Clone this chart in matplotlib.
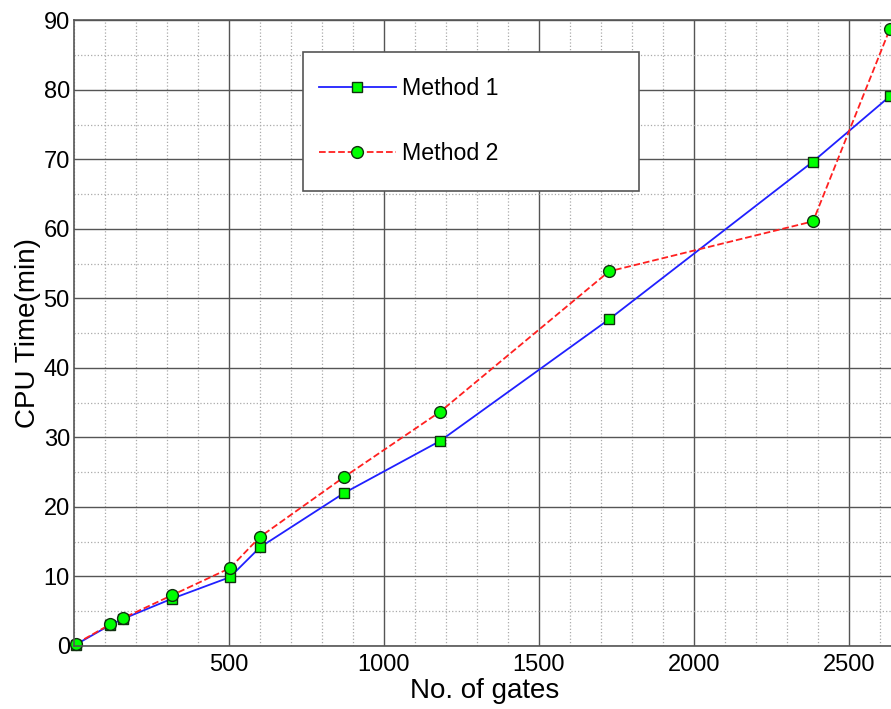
import matplotlib.pyplot as plt
from matplotlib.patches import Rectangle
from matplotlib.ticker import MultipleLocator

plt.rcParams['font.family'] = ['Liberation Sans', 'DejaVu Sans']

# data
gates = [6, 116, 158, 316, 503, 600, 871, 1181, 1726, 2384, 2632]
method1 = [0.2, 3.0, 3.9, 6.8, 9.9, 14.2, 22.0, 29.5, 47.0, 69.7, 79.1]
method2 = [0.3, 3.1, 4.0, 7.3, 11.2, 15.7, 24.3, 33.7, 53.9, 61.1, 88.8]
xticks = [500, 1000, 1500, 2000, 2500]
yticks = list(range(0, 91, 10))

W = 2650 * 0.31  # axes width in pixels, the right part is cut by the figure edge
fig = plt.figure(figsize=(8.91, 7.09), dpi=100)
ax = fig.add_axes([74 / 891, 0.0889, W / 891, 0.8822])

ax.plot(gates, method1, '-', color='#2020ff', lw=1.3, marker='s', ms=7.5,
        mfc='#00ff00', mec='#103010', mew=1.0, label='Method 1', clip_on=False)
ax.plot(gates, method2, '--', color='#ff2020', lw=1.3, marker='o', ms=8.5,
        mfc='#00ff00', mec='#103010', mew=1.0, label='Method 2', clip_on=False)

ax.set_xlim(0, 2650)
ax.set_ylim(0, 90)
ax.set_xticks(xticks)
ax.set_yticks(yticks)
ax.xaxis.set_minor_locator(MultipleLocator(100))
ax.yaxis.set_minor_locator(MultipleLocator(5))
ax.grid(which='major', color='#555555', lw=1.0, ls='-')
ax.grid(which='minor', color='#aaaaaa', lw=0.9, ls=':')
ax.set_axisbelow(True)
ax.tick_params(which='both', direction='in', length=0, labelsize=17)
ax.tick_params(axis='y', pad=3)
ax.tick_params(axis='x', pad=6)
for s in ax.spines.values():
    s.set_color('#555555')
    s.set_linewidth(1.2)

ax.set_xlabel('No. of gates', fontsize=20, labelpad=1)
ax.set_ylabel('CPU Time(min)', fontsize=20, labelpad=2)

# legend: wide fixed box drawn by hand, entries placed inside
def ax_x(px):
    return (px - 74) / W

def ax_y(py):
    return (646 - py) / 625.5

box = Rectangle((ax_x(303), ax_y(191)), ax_x(639) - ax_x(303), ax_y(52) - ax_y(191),
                transform=ax.transAxes, facecolor='white', edgecolor='#555555',
                lw=1.2, zorder=5)
ax.add_patch(box)
leg = ax.legend(loc='upper left', bbox_to_anchor=(ax_x(319), ax_y(77.5)), frameon=False,
                fontsize=16.7, labelspacing=1.8, borderpad=0, borderaxespad=0,
                handlelength=3.3, handletextpad=0.3)
leg.set_zorder(6)

fig.savefig('out.png', dpi=100)
